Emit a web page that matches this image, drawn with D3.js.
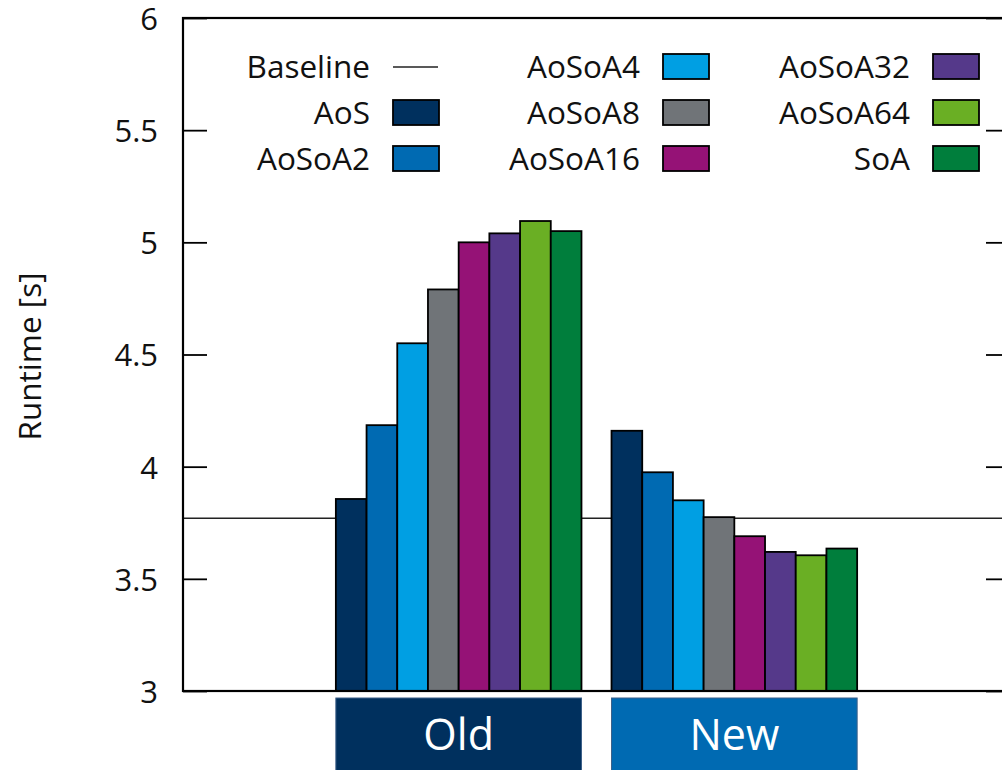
<!DOCTYPE html>
<html>
<head>
<meta charset="utf-8">
<script src="https://cdn.jsdelivr.net/npm/d3@7"></script>
<style>
  body { margin: 0; background: #fff; }
  svg { display: block; font-family: "Open Sans", "Noto Sans", sans-serif; }
</style>
</head>
<body>
<svg id="chart" width="1002" height="770"></svg>
<script>
// data
var groups = ["Old", "New"];
var series = ["AoS", "AoSoA2", "AoSoA4", "AoSoA8", "AoSoA16", "AoSoA32", "AoSoA64", "SoA"];
var oldValues = [3.856, 4.185, 4.55, 4.79, 5.0, 5.04, 5.095, 5.05];
var newValues = [4.16, 3.975, 3.85, 3.775, 3.69, 3.62, 3.605, 3.635];
var baseline = 3.77;
var yTicks = [3, 3.5, 4, 4.5, 5, 5.5, 6];
var colors = ["#00305e", "#006ab2", "#009fe3", "#707478", "#951276", "#55398a", "#6aaf24", "#007e3c"];
var groupColors = ["#00305e", "#006ab2"];

var svg = d3.select("svg"),
    margin = {top: 18, right: -8, bottom: 79, left: 183},
    width = +svg.attr("width") - margin.left - margin.right,
    height = +svg.attr("height") - margin.top - margin.bottom;

var g = svg.append("g")
    .attr("transform", "translate(" + margin.left + "," + margin.top + ")");

// group positions: -1 .. 2 spans the frame, groups at 0 and 1
var x = d3.scaleLinear().domain([-1, 2]).range([0, width]);
var step = x(1) - x(0);
var groupW = step * 0.891;
var xb = d3.scaleBand().domain(series).range([-groupW / 2, groupW / 2]);
var y = d3.scaleLinear().domain([3, 6]).range([height, 0]);

var table = [];
groups.forEach(function(gr, gi) {
  var vals = gi == 0 ? oldValues : newValues;
  series.forEach(function(s, si) {
    table.push({group: gi, series: s, value: vals[si], color: colors[si]});
  });
});

// baseline
g.append("line")
    .attr("x1", 0).attr("x2", width)
    .attr("y1", y(baseline)).attr("y2", y(baseline))
    .attr("stroke", "#222").attr("stroke-width", 1.6);

// bars
g.selectAll(".bar")
    .data(table)
    .enter().append("rect")
    .attr("class", "bar")
    .attr("x", function(d) { return x(d.group) + xb(d.series); })
    .attr("y", function(d) { return y(d.value); })
    .attr("width", xb.bandwidth())
    .attr("height", function(d) { return height - y(d.value); })
    .attr("fill", function(d) { return d.color; })
    .attr("stroke", "#000")
    .attr("stroke-width", 1.8);

// axes: left with labels, right mirror ticks, both inward
var yAxis = g.append("g")
    .call(d3.axisRight(y).tickValues(yTicks).tickSize(24).tickFormat(""));
yAxis.select(".domain").remove();
yAxis.selectAll("line").attr("stroke", "#000").attr("stroke-width", 1.8);

var yAxisR = g.append("g")
    .attr("transform", "translate(" + width + ",0)")
    .call(d3.axisLeft(y).tickValues(yTicks).tickSize(24).tickFormat(""));
yAxisR.select(".domain").remove();
yAxisR.selectAll("line").attr("stroke", "#000").attr("stroke-width", 1.8);

g.selectAll(".ylab")
    .data(yTicks)
    .enter().append("text")
    .attr("class", "ylab")
    .attr("x", -25)
    .attr("y", function(d) { return y(d) + 1; })
    .attr("dy", "0.35em")
    .attr("text-anchor", "end")
    .attr("font-size", 31)
    .attr("fill", "#111")
    .text(function(d) { return d; });

// frame
g.append("rect")
    .attr("x", 0).attr("y", 0)
    .attr("width", width).attr("height", height)
    .attr("fill", "none")
    .attr("stroke", "#000")
    .attr("stroke-width", 2.2);

svg.append("text")
    .attr("transform", "translate(41," + (margin.top + y(4.5) + 2) + ") rotate(-90)")
    .attr("text-anchor", "middle")
    .attr("font-size", 31.5)
    .attr("fill", "#111")
    .text("Runtime [s]");

// group boxes under the axis
var gb = g.selectAll(".gbox")
    .data(groups)
    .enter().append("g")
    .attr("class", "gbox");
gb.append("rect")
    .attr("x", function(d, i) { return x(i) - groupW / 2; })
    .attr("y", height + 7)
    .attr("width", groupW)
    .attr("height", 80)
    .attr("fill", function(d, i) { return groupColors[i]; })
    .attr("stroke", "#3c5f88")
    .attr("stroke-width", 1);
gb.append("text")
    .attr("x", function(d, i) { return x(i); })
    .attr("y", height + 44)
    .attr("dy", "0.35em")
    .attr("text-anchor", "middle")
    .attr("font-size", 43)
    .attr("fill", "#fff")
    .text(function(d) { return d; });

// legend, three columns filled top-down
var legendItems = [{name: "Baseline", line: true}].concat(series.map(function(s, i) {
  return {name: s, color: colors[i]};
}));
var colRight = [370, 640, 910];
var rowY = [49, 95, 141];

var leg = svg.selectAll(".leg")
    .data(legendItems)
    .enter().append("g")
    .attr("class", "leg")
    .attr("transform", function(d, i) {
      return "translate(" + colRight[Math.floor(i / 3)] + "," + rowY[i % 3] + ")";
    });
leg.append("text")
    .attr("x", 0)
    .attr("y", 18)
    .attr("dy", "0.35em")
    .attr("text-anchor", "end")
    .attr("font-size", 31.5)
    .attr("fill", "#111")
    .text(function(d) { return d.name; });
leg.filter(function(d) { return d.line; }).append("line")
    .attr("x1", 23).attr("x2", 68)
    .attr("y1", 18).attr("y2", 18)
    .attr("stroke", "#222").attr("stroke-width", 1.6);
leg.filter(function(d) { return !d.line; }).append("rect")
    .attr("x", 23).attr("y", 5)
    .attr("width", 46).attr("height", 25)
    .attr("fill", function(d) { return d.color; })
    .attr("stroke", "#000")
    .attr("stroke-width", 1.8);
</script>
</body>
</html>
